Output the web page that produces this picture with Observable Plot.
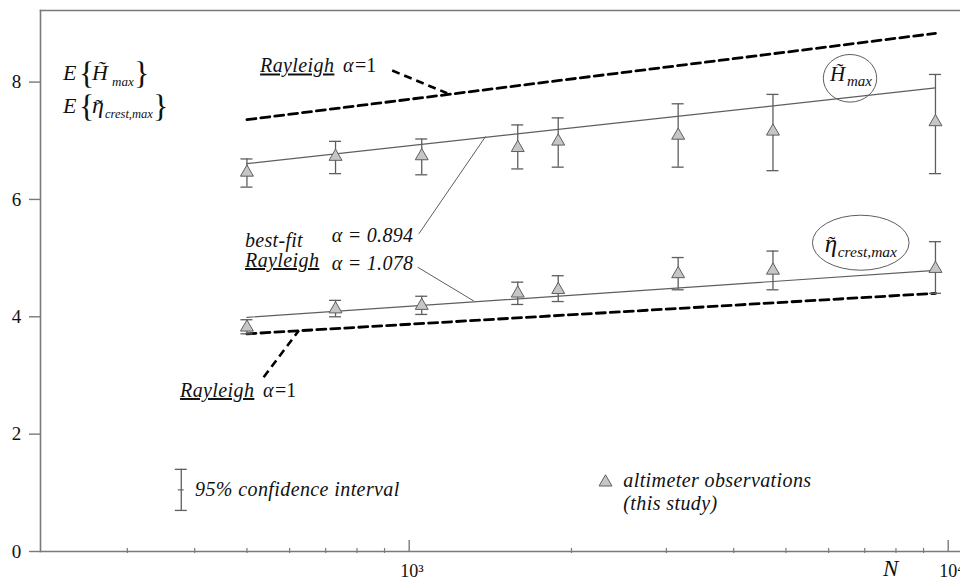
<!DOCTYPE html>
<html><head><meta charset="utf-8">
<script src="https://cdn.jsdelivr.net/npm/d3@7"></script>
<script src="https://cdn.jsdelivr.net/npm/@observablehq/plot@0.6"></script>
<style>
html,body{margin:0;padding:0;background:#fff;}
#chart svg{display:block;}
</style>
</head><body><div id="chart"></div>
<script>
// ---- data ----
const sampleN   = [500, 730, 1055, 1590, 1890, 3155, 4730, 9470];
const hmaxMean  = [6.46, 6.73, 6.74, 6.88, 6.99, 7.09, 7.16, 7.32];
const hmaxLo    = [6.21, 6.44, 6.42, 6.52, 6.55, 6.55, 6.49, 6.44];
const hmaxHi    = [6.69, 6.99, 7.03, 7.27, 7.39, 7.63, 7.79, 8.13];
const etaMean   = [3.82, 4.13, 4.19, 4.40, 4.46, 4.73, 4.79, 4.82];
const etaLo     = [3.71, 4.00, 4.04, 4.21, 4.26, 4.46, 4.46, 4.40];
const etaHi     = [3.95, 4.28, 4.35, 4.59, 4.70, 5.01, 5.12, 5.28];
const lineN     = [500, 9470];
const hmaxFit   = [6.61, 7.90];   // best-fit Rayleigh, alpha = 0.894
const etaFit    = [3.99, 4.79];   // best-fit Rayleigh, alpha = 1.078
const hmaxRay   = [7.36, 8.83];   // Rayleigh alpha = 1
const etaRay    = [3.71, 4.40];   // Rayleigh alpha = 1
const yTicks    = [0, 2, 4, 6, 8];
const xMajor    = [1000, 10000];
const xMajorLabels = ["10³", "10⁴"];
const xMinor    = [300, 400, 500, 600, 700, 800, 900, 2000, 3000, 4000, 5000, 6000, 7000, 8000, 9000];
const xDomain   = [207, 10539];
const yDomain   = [0, 9.22];

// ---- tables built from the arrays ----
const obs = sampleN.flatMap((n, i) => [
  {N: n, mean: hmaxMean[i], lo: hmaxLo[i], hi: hmaxHi[i]},
  {N: n, mean: etaMean[i], lo: etaLo[i], hi: etaHi[i]}
]);
const pairs = (ys) => lineN.map((n, i) => ({N: n, v: ys[i]}));
const legendBar = [{N: 377.7, lo: 0.70, hi: 1.40, mid: 1.05}];
const legendTri = [{N: 2313, v: 1.18}];
const leadersSolid = [
  {x1: 1042, y1: 5.414, x2: 1386, y2: 7.073},
  {x1: 1037, y1: 4.845, x2: 1318, y2: 4.269}
];
const leadersDashed = [
  {x1: 930, y1: 8.197, x2: 1176, y2: 7.81},
  {x1: 537, y1: 2.97, x2: 624, y2: 3.766}
];

const SERIF = "'Liberation Serif', 'Times New Roman', serif";
const AX = "#7a7a7a", LN = "#5e5e5e";

const chart = Plot.plot({
  width: 960, height: 581,
  marginLeft: 40, marginRight: 0, marginTop: 10, marginBottom: 30,
  x: {type: "log", domain: xDomain, axis: null},
  y: {domain: yDomain, axis: null},
  style: {fontFamily: SERIF, background: "#fff", color: "#111", overflow: "visible"},
  marks: [
    Plot.frame({anchor: "top", stroke: AX, strokeWidth: 1.6}),
    Plot.frame({anchor: "left", stroke: AX, strokeWidth: 1.6}),
    Plot.frame({anchor: "bottom", stroke: AX, strokeWidth: 1.6}),
    Plot.ruleY(yTicks, {y: d => d, x1: xDomain[0], x2: xDomain[0], insetLeft: -11, stroke: AX, strokeWidth: 1.4}),
    Plot.text(yTicks, {x: xDomain[0], y: d => d, text: d => String(d), dx: -24, fontSize: 19, textAnchor: "middle", fill: "#111"}),
    Plot.ruleX(xMinor, {x: d => d, y1: 0, y2: 0, insetTop: -3, insetBottom: -2, stroke: AX, strokeWidth: 1.2}),
    Plot.ruleX(xMajor, {x: d => d, y1: 0, y2: 0, insetTop: -11, stroke: AX, strokeWidth: 1.4}),
    Plot.text(xMajor, {x: d => d, y: 0, text: (d, i) => xMajorLabels[i], dx: -9, dy: 20, textAnchor: "start", fontSize: 18, fill: "#111"}),
    // Rayleigh alpha=1 (dashed)
    Plot.line(pairs(hmaxRay), {x: "N", y: "v", stroke: "#000", strokeWidth: 2.8, strokeDasharray: "9,5"}),
    Plot.line(pairs(etaRay), {x: "N", y: "v", stroke: "#000", strokeWidth: 2.8, strokeDasharray: "9,5"}),
    Plot.link(leadersDashed, {x1: "x1", y1: "y1", x2: "x2", y2: "y2", stroke: "#000", strokeWidth: 2.6, strokeDasharray: "8,5"}),
    // best-fit lines
    Plot.line(pairs(hmaxFit), {x: "N", y: "v", stroke: LN, strokeWidth: 1.2}),
    Plot.line(pairs(etaFit), {x: "N", y: "v", stroke: LN, strokeWidth: 1.2}),
    Plot.link(leadersSolid, {x1: "x1", y1: "y1", x2: "x2", y2: "y2", stroke: LN, strokeWidth: 1}),
    // error bars
    Plot.ruleX(obs, {x: "N", y1: "lo", y2: "hi", stroke: LN, strokeWidth: 1.3}),
    Plot.ruleY(obs, {y: "hi", x1: "N", x2: "N", insetLeft: -6, insetRight: -6, stroke: LN, strokeWidth: 1.3}),
    Plot.ruleY(obs, {y: "lo", x1: "N", x2: "N", insetLeft: -6, insetRight: -6, stroke: LN, strokeWidth: 1.3}),
    Plot.dot(obs, {x: "N", y: "mean", symbol: "triangle", r: 4.8, fill: "#c6c6c6", stroke: LN, strokeWidth: 1}),
    // legend
    Plot.ruleX(legendBar, {x: "N", y1: "lo", y2: "hi", stroke: LN, strokeWidth: 1.3}),
    Plot.ruleY(legendBar, {y: "hi", x1: "N", x2: "N", insetLeft: -6, insetRight: -6, stroke: LN, strokeWidth: 1.3}),
    Plot.ruleY(legendBar, {y: "lo", x1: "N", x2: "N", insetLeft: -6, insetRight: -6, stroke: LN, strokeWidth: 1.3}),
    Plot.ruleY(legendBar, {y: "mid", x1: "N", x2: "N", insetLeft: -3, insetRight: -3, stroke: LN, strokeWidth: 1.1}),
    Plot.dot(legendTri, {x: "N", y: "v", symbol: "triangle", r: 4.8, fill: "#c6c6c6", stroke: LN, strokeWidth: 1})
  ]
});
document.getElementById("chart").appendChild(chart);

// ---- rich-text annotations placed with Plot's scales ----
const sx = chart.scale("x"), sy = chart.scale("y");
const g = d3.select(chart).append("g").attr("font-family", SERIF).attr("fill", "#111");
function put(N, v, parts) {
  const x0 = sx.apply(N), y0 = sy.apply(v);
  for (const p of parts) {
    g.append("text")
      .attr("x", x0 + (p.dx || 0)).attr("y", y0 + (p.dy || 0))
      .attr("font-size", p.size || 20)
      .attr("font-style", p.italic === false ? "normal" : "italic")
      .attr("text-anchor", p.anchor || "start")
      .attr("text-decoration", p.ul ? "underline" : null)
      .attr("letter-spacing", p.ls != null ? p.ls : null)
      .text(p.t);
  }
}
function ellipse(N, v, rx, ry) {
  g.append("ellipse").attr("cx", sx.apply(N)).attr("cy", sy.apply(v))
    .attr("rx", rx).attr("ry", ry).attr("fill", "none").attr("stroke", LN).attr("stroke-width", 1);
}

// y-axis quantity labels
put(228.4, 8.027, [
  {t: "E", size: 22},
  {t: "{", dx: 16, dy: 4, size: 32, italic: false},
  {t: "H\u0303", dx: 29, size: 22},
  {t: "max", dx: 49, dy: 6, size: 13},
  {t: "}", dx: 71, dy: 4, size: 32, italic: false}
]);
put(228.4, 7.47, [
  {t: "E", size: 22},
  {t: "{", dx: 16, dy: 4, size: 32, italic: false},
  {t: "η", dx: 29, size: 24},
  {t: "˜", dx: 36, dy: 1, size: 22, anchor: "middle", italic: false},
  {t: "crest,max", dx: 42, dy: 5, size: 12.5},
  {t: "}", dx: 90, dy: 4, size: 32, italic: false}
]);

// Rayleigh alpha = 1 labels
put(530, 8.155, [{t: "Rayleigh", ul: true, ls: 0.4}, {t: "α", dx: 83}, {t: "=1", dx: 95, italic: false}]);
put(376.5, 2.625, [{t: "Rayleigh", ul: true, ls: 0.4}, {t: "α", dx: 83}, {t: "=1", dx: 95, italic: false}]);

// best-fit labels
put(497, 5.186, [{t: "best-fit", ls: 0.3}]);
put(497, 4.84, [{t: "Rayleigh", ul: true, ls: 0.4}]);
put(719.5, 5.27, [{t: "α = 0.894", ls: 0.3}]);
put(719.5, 4.797, [{t: "α = 1.078", ls: 0.3}]);

// circled series labels
ellipse(6588, 8.056, 26.7, 23.8);
put(6588, 8.056, [
  {t: "H\u0303", dx: -20, dy: 3, size: 21},
  {t: "max", dx: -3, dy: 8, size: 15}
]);
ellipse(6897, 5.254, 48.3, 27.5);
put(6897, 5.254, [
  {t: "η", dx: -36, dy: 9, size: 25},
  {t: "˜", dx: -29, dy: 8, size: 22, anchor: "middle", italic: false},
  {t: "crest,max", dx: -23, dy: 14, size: 15.5}
]);

// legend texts
put(401.4, 0.937, [{t: "95% confidence interval", ls: 0.4}]);
put(2501, 1.096, [{t: "altimeter observations", ls: 0.4}]);
put(2501, 0.699, [{t: "(this study)", ls: 0.4}]);

// x-axis title
put(7586, 0, [{t: "N", dy: 25, size: 23}]);
</script>
</body></html>
